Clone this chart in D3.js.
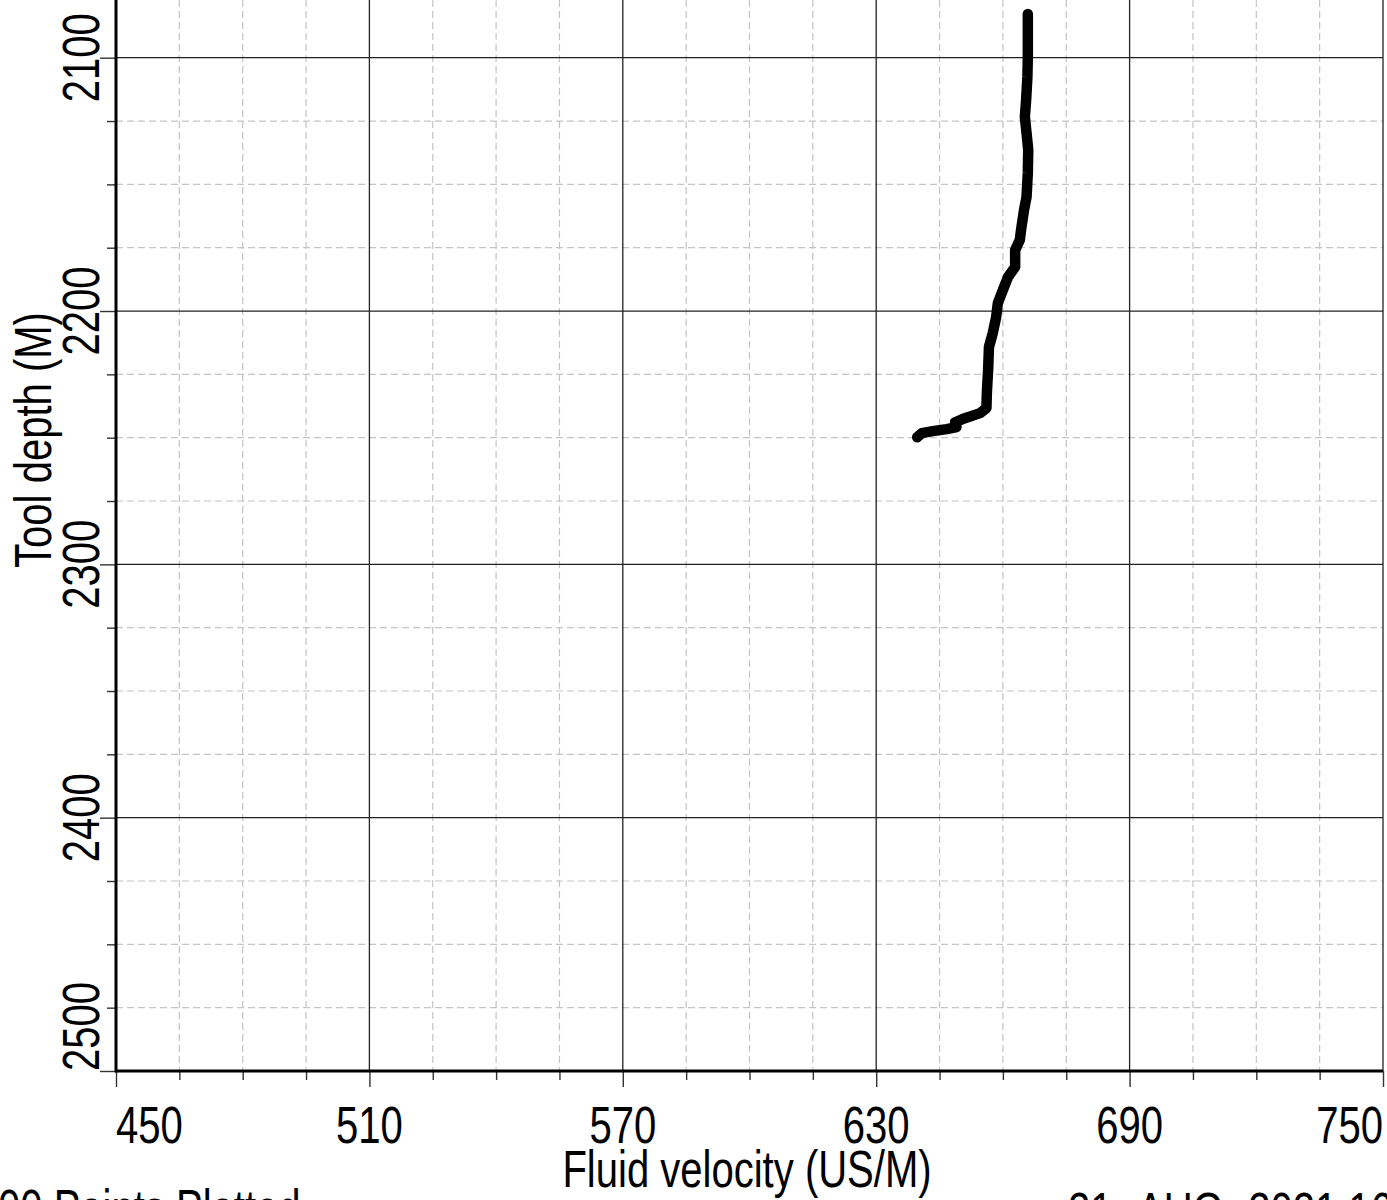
<!DOCTYPE html>
<html>
<head>
<meta charset="utf-8">
<script src="https://cdn.jsdelivr.net/npm/d3@7"></script>
<style>
  html, body { margin: 0; padding: 0; background: #fff; overflow: hidden; }
  svg { display: block; }
  text { font-family: "Liberation Sans", Arial, sans-serif; fill: #000; }
</style>
</head>
<body>
<svg id="chart" width="1387" height="1200"></svg>
<script>
// ---- data ----
const xMajorTicks = [450, 510, 570, 630, 690, 750];
const xMinorTicks = [465, 480, 495, 525, 540, 555, 585, 600, 615, 645, 660, 675, 705, 720, 735];
const yMajorTicks = [2100, 2200, 2300, 2400, 2500];
const yMinorTicks = [2125, 2150, 2175, 2225, 2250, 2275, 2325, 2350, 2375, 2425, 2450, 2475];

const velocity = [665.9, 665.9, 665.8, 665.5, 665.2, 665.6, 666.0, 665.9, 665.6, 665.0,
                  664.3, 664.0, 662.9, 662.9, 661.2, 660.0, 658.8, 658.4, 657.6, 656.7,
                  656.5, 656.2, 656.1, 654.6, 651.0, 648.7, 649.0, 646.7, 643.4, 640.8, 639.7];
const depth    = [2082.7, 2099.7, 2107.6, 2116.7, 2123.4, 2129.7, 2136.4, 2145.5, 2155.0, 2160.1,
                  2168.0, 2172.0, 2175.9, 2182.6, 2186.6, 2191.7, 2196.9, 2202.4, 2208.7, 2214.2,
                  2223.3, 2232.4, 2238.3, 2240.3, 2242.3, 2243.9, 2245.8, 2246.6, 2247.4, 2248.2, 2249.8];

const xTitle = "Fluid velocity (US/M)";
const yTitle = "Tool depth (M)";
const footLeft = "00 Points Plotted";
const footRight = "21 -AUG -2021 16";

// ---- layout ----
const plotLeft = 116, plotRight = 1383, plotBottom = 1071, plotTop = 0;
const svg = d3.select("#chart");
const x = d3.scaleLinear().domain([450, 750]).range([plotLeft, plotRight]);
const y = d3.scaleLinear().domain([2100, 2500]).range([57.7, plotBottom]);
const FS = 52, SX = 0.77;

// minor grid (dashed)
const grid = svg.append("g");
grid.selectAll(".vminor").data(xMinorTicks).join("line")
  .attr("x1", d => x(d)).attr("x2", d => x(d)).attr("y1", plotTop).attr("y2", plotBottom)
  .attr("stroke", "#c4c4c4").attr("stroke-width", 1.2).attr("stroke-dasharray", "7,4");
grid.selectAll(".hminor").data(yMinorTicks).join("line")
  .attr("y1", d => y(d)).attr("y2", d => y(d)).attr("x1", plotLeft).attr("x2", plotRight)
  .attr("stroke", "#c4c4c4").attr("stroke-width", 1.2).attr("stroke-dasharray", "7,4");
// major grid (solid)
grid.selectAll(".vmajor").data(xMajorTicks.slice(1)).join("line")
  .attr("x1", d => x(d)).attr("x2", d => x(d)).attr("y1", plotTop).attr("y2", plotBottom)
  .attr("stroke", "#222").attr("stroke-width", 1.3);
grid.selectAll(".hmajor").data(yMajorTicks.slice(0, -1)).join("line")
  .attr("y1", d => y(d)).attr("y2", d => y(d)).attr("x1", plotLeft).attr("x2", plotRight)
  .attr("stroke", "#222").attr("stroke-width", 1.3);

// axes ticks via d3 axes
const xAxisMajor = svg.append("g").attr("transform", `translate(0,${plotBottom})`)
  .call(d3.axisBottom(x).tickValues(xMajorTicks).tickSize(16).tickFormat(""));
const xAxisMinor = svg.append("g").attr("transform", `translate(0,${plotBottom})`)
  .call(d3.axisBottom(x).tickValues(xMinorTicks).tickSize(9).tickFormat(""));
const yAxisMajor = svg.append("g").attr("transform", `translate(${plotLeft},0)`)
  .call(d3.axisLeft(y).tickValues(yMajorTicks).tickSize(16).tickFormat(""));
const yAxisMinor = svg.append("g").attr("transform", `translate(${plotLeft},0)`)
  .call(d3.axisLeft(y).tickValues(yMinorTicks).tickSize(9).tickFormat(""));
[xAxisMajor, xAxisMinor, yAxisMajor, yAxisMinor].forEach(g => {
  g.select(".domain").remove();
  g.selectAll(".tick line").attr("stroke", "#333").attr("stroke-width", 1.4);
});

// axis lines
svg.append("line").attr("x1", plotLeft).attr("x2", plotLeft).attr("y1", plotTop).attr("y2", plotBottom + 1.5)
  .attr("stroke", "#000").attr("stroke-width", 3);
svg.append("line").attr("x1", plotLeft).attr("x2", plotRight).attr("y1", plotBottom).attr("y2", plotBottom)
  .attr("stroke", "#000").attr("stroke-width", 3);

// data line
const pts = velocity.map((v, i) => [v, depth[i]]);
svg.append("path").datum(pts)
  .attr("d", d3.line().x(d => x(d[0])).y(d => y(d[1])))
  .attr("fill", "none").attr("stroke", "#000").attr("stroke-width", 10.5)
  .attr("stroke-linecap", "round").attr("stroke-linejoin", "round");

// x tick labels
svg.append("g").selectAll("g").data(xMajorTicks).join("g")
  .attr("transform", d => `translate(${x(d)},1143)`)
  .append("text")
  .attr("transform", `scale(${SX},1)`)
  .attr("font-size", FS)
  .attr("text-anchor", (d, i) => i === 0 ? "start" : (i === xMajorTicks.length - 1 ? "end" : "middle"))
  .text(d => d);

// y tick labels (rotated)
svg.append("g").selectAll("g").data(yMajorTicks).join("g")
  .attr("transform", d => `translate(99,${y(d)}) rotate(-90)`)
  .append("text")
  .attr("transform", `scale(${SX},1)`)
  .attr("font-size", FS)
  .attr("text-anchor", (d, i) => i === yMajorTicks.length - 1 ? "start" : "middle")
  .text(d => d);

// axis titles
svg.append("g").attr("transform", "translate(747,1187)")
  .append("text").attr("transform", `scale(${SX},1)`).attr("font-size", FS)
  .attr("text-anchor", "middle").text(xTitle);
svg.append("g").attr("transform", "translate(51,440) rotate(-90)")
  .append("text").attr("transform", `scale(${SX},1)`).attr("font-size", FS)
  .attr("text-anchor", "middle").text(yTitle);

// footer texts
svg.append("g").attr("transform", "translate(-2,1226)")
  .append("text").attr("transform", `scale(${SX},1)`).attr("font-size", FS)
  .text(footLeft);
svg.append("g").attr("transform", "translate(1068,1229)")
  .append("text").attr("transform", `scale(${SX},1)`).attr("font-size", FS)
  .text(footRight);
</script>
</body>
</html>
